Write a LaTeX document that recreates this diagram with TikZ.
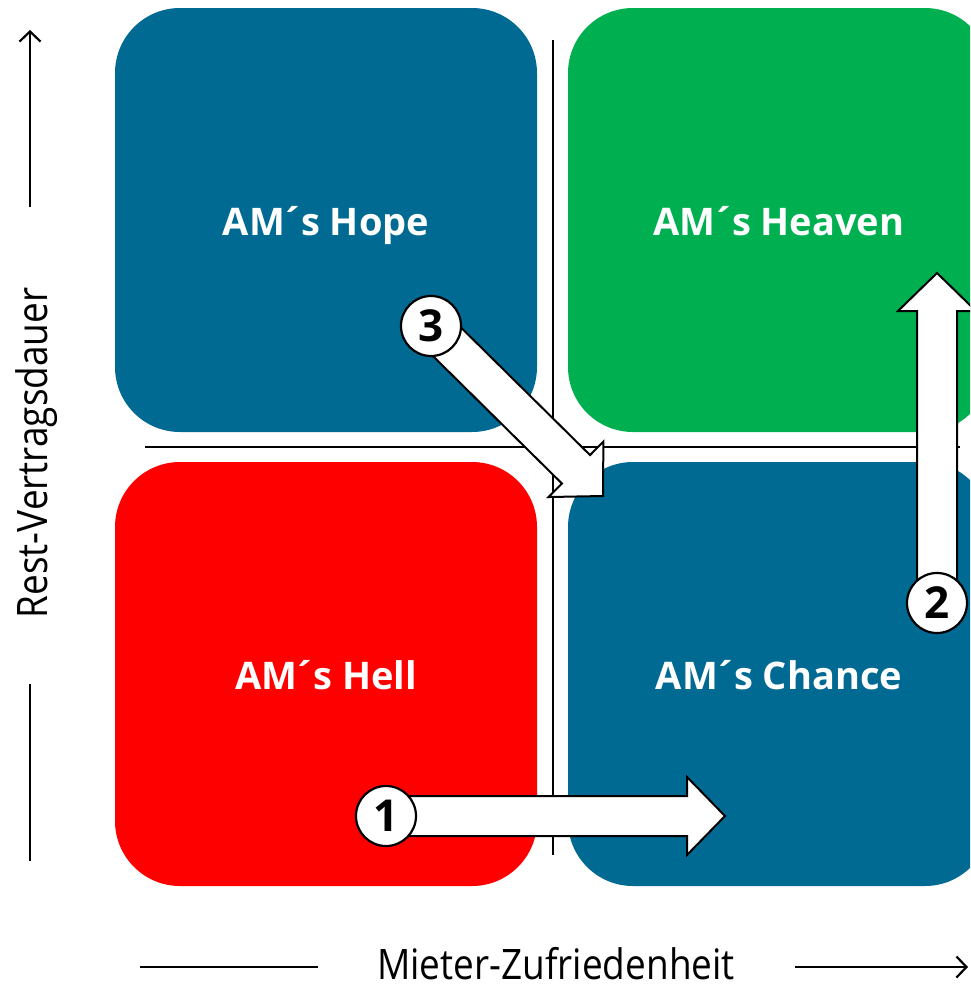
\documentclass[tikz,border=0pt]{standalone}
\usepackage{fontspec}
\setmainfont{Open Sans}
\usetikzlibrary{calc,arrows.meta}

\definecolor{hopeblue}{RGB}{0,106,146}
\definecolor{heavengreen}{RGB}{0,176,80}
\definecolor{hellred}{RGB}{255,0,0}

\newcommand\amacute{\kern-0.09em´\kern-0.09em}
\newcommand\axistext[1]{\scalebox{0.88}[1]{#1}}

\tikzset{
  quadrant/.style={rounded corners=65pt, minimum width=422pt, minimum height=424pt,
    inner sep=0pt, text height=36pt, text depth=5pt, text=white,
    font=\bfseries\fontsize{38}{46}\selectfont},
  stepno/.style={circle, draw, fill=white, line width=2.2pt, minimum size=60pt,
    inner sep=0pt, font=\bfseries\fontsize{44}{50}\selectfont},
  blockarrow/.style={draw, fill=white, line width=2pt, line join=miter},
  axis/.style={line width=2.2pt},
  axislabel/.style={anchor=base, inner sep=0pt, text depth=0pt,
    font=\fontsize{42}{50}\selectfont},
}

% block arrow from #1 to tip #2
\newcommand\blockarrow[2]{%
  \coordinate (hb) at ($(#2)!38pt!(#1)$);
  \draw[blockarrow] ($(#1)!20pt!90:(#2)$) -- ($(hb)!20pt!90:(#2)$)
    -- ($(hb)!39pt!90:(#2)$) -- (#2) -- ($(hb)!39pt!-90:(#2)$)
    -- ($(hb)!20pt!-90:(#2)$) -- ($(#1)!20pt!-90:(#2)$) -- cycle;
}

\begin{document}
\begin{tikzpicture}[x=1pt,y=-1pt]
\useasboundingbox (0,0) rectangle (970,986);
\clip (0,0) rectangle (970,986);

% quadrants
\node[quadrant, fill=hopeblue] (hope) at (326,220) {AM\amacute s Hope};
\node[quadrant, fill=heavengreen] (heaven) at (779,220) {AM\amacute s Heaven};
\node[quadrant, fill=hellred] (hell) at (326,674) {AM\amacute s Hell};
\node[quadrant, fill=hopeblue] (chance) at (779,674) {AM\amacute s Chance};

% dividing lines
\draw[line width=1.6pt] (553,40) -- (553,855);
\draw[line width=1.6pt] (145,447) -- (960,447);

% axes
\draw[axis, -{Straight Barb[length=10pt,width=21pt]}] (30,207) -- (30,30);
\draw[axis] (30,684) -- (30,861);
\node[axislabel, rotate=90] (ylab) at (47,453) {\axistext{Rest-Vertragsdauer}};
\draw[axis] (140,967) -- (318,967);
\draw[axis, -{Straight Barb[length=10pt,width=21pt]}] (795,967) -- (968,967);
\node[axislabel] (xlab) at (556,979) {\axistext{Mieter-Zufriedenheit}};

% moves
\coordinate (s1) at (386,816);
\coordinate (t1) at (725,816);
\coordinate (s2) at (937,603);
\coordinate (t2) at (937,273);
\coordinate (s3) at (431,326);
\coordinate (t3) at (603,496);
\blockarrow{s1}{t1}
\blockarrow{s2}{t2}
\blockarrow{s3}{t3}
\node[stepno] (n1) at (s1) {1};
\node[stepno] (n2) at (s2) {2};
\node[stepno] (n3) at (s3) {3};
\end{tikzpicture}
\end{document}
